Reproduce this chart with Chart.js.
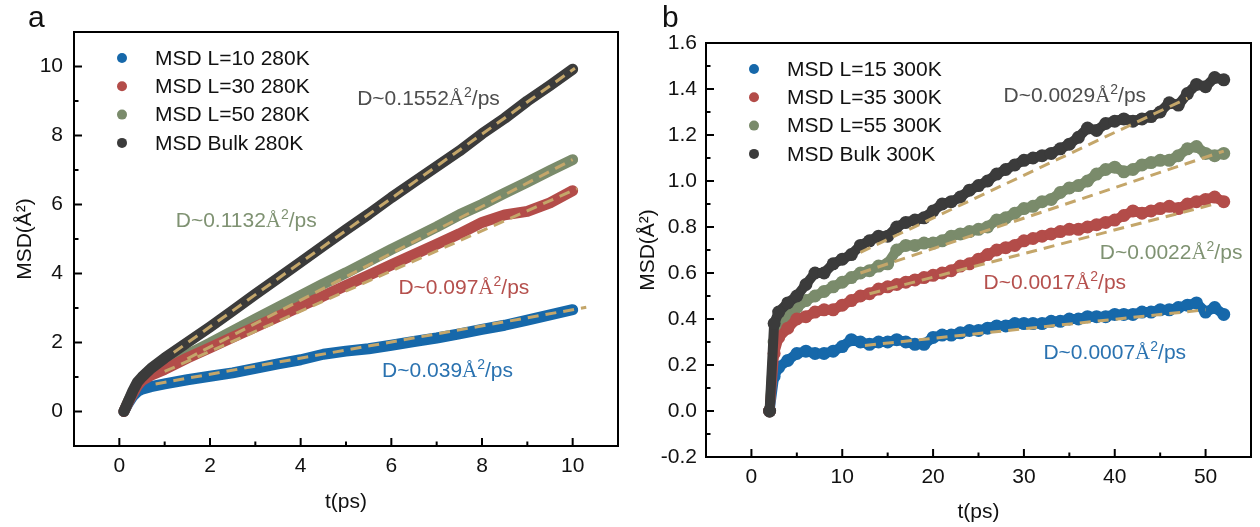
<!DOCTYPE html>
<html>
<head>
<meta charset="utf-8">
<title>MSD</title>
<script src="https://cdn.jsdelivr.net/npm/chart.js@4/dist/chart.umd.min.js"></script>
<style>
  body { margin: 0; background: #fff; }
  #wrap { position: relative; width: 1260px; height: 527px; }
  .pan { position: absolute; top: 0; width: 630px; height: 527px; }
</style>
</head>
<body>
<div id="wrap">
  <div class="pan" style="left:0"><canvas id="chartA" width="630" height="527"></canvas></div>
  <div class="pan" style="left:630px"><canvas id="chartB" width="630" height="527"></canvas></div>
</div>
<script>
// ---- panel a (280K) ----
var tA = [0.1,0.2,0.3,0.4,0.5,0.7,1,1.5,2,2.5,3,3.5,4,4.5,5,5.5,6,6.5,7,7.5,8,8.5,9,9.5,10];
var l10A = [0,0.25,0.45,0.58,0.65,0.72,0.8,0.92,1.02,1.12,1.25,1.38,1.5,1.66,1.75,1.82,1.92,2.03,2.13,2.25,2.38,2.5,2.65,2.8,2.95];
var l30A = [0,0.28,0.52,0.75,0.9,1.05,1.22,1.55,1.85,2.15,2.45,2.75,3.05,3.35,3.65,3.95,4.25,4.55,4.85,5.15,5.48,5.7,5.8,6.05,6.4];
var l50A = [0,0.3,0.55,0.8,0.95,1.12,1.32,1.65,1.98,2.33,2.68,3.02,3.36,3.7,4.02,4.36,4.7,5.02,5.35,5.7,6.0,6.33,6.65,6.98,7.3];
var bulkA = [0,0.3,0.6,0.85,1.0,1.25,1.55,2.0,2.45,2.92,3.4,3.86,4.33,4.8,5.27,5.72,6.2,6.65,7.1,7.55,8.05,8.5,9.0,9.45,9.92];
var fitL10A = [[0.8, 0.80], [10.3, 3.02]];
var fitL30A = [[1.0, 1.16], [10.1, 6.46]];
var fitL50A = [[1.5, 1.53], [10.0, 7.30]];
var fitBulkA = [[1.2, 1.71], [10.05, 9.95]];
var namesA = ['MSD L=10 280K', 'MSD L=30 280K', 'MSD L=50 280K', 'MSD Bulk 280K'];
var xTicksA = [0, 2, 4, 6, 8, 10];
var yTicksA = [0, 2, 4, 6, 8, 10];
var noteValA = ['0.039', '0.097', '0.1132', '0.1552'];
var noteXA = [7.24, 7.6, 2.8, 6.82];
var noteYA = [1.19, 3.6, 5.54, 9.1];

// ---- panel b (300K) ----
var tB = [2,2.5,3,4,5,6,7,8,9,10,11,12,13,14,15,16,17,18,19,20,21,22,23,24,25,26,27,28,29,30,31,32,33,34,35,36,37,38,39,40,41,42,43,44,45,46,47,48,49,50,51,52];
var l15B = [0,0.15,0.19,0.22,0.25,0.26,0.25,0.25,0.26,0.28,0.31,0.3,0.29,0.3,0.3,0.31,0.3,0.29,0.29,0.32,0.33,0.33,0.34,0.35,0.35,0.36,0.37,0.37,0.38,0.38,0.38,0.38,0.39,0.39,0.4,0.4,0.41,0.41,0.41,0.42,0.42,0.42,0.43,0.43,0.44,0.44,0.45,0.46,0.47,0.43,0.45,0.42];
var l35B = [0,0.25,0.32,0.36,0.4,0.41,0.43,0.44,0.44,0.46,0.48,0.5,0.51,0.53,0.54,0.55,0.56,0.57,0.58,0.59,0.6,0.61,0.63,0.64,0.66,0.68,0.7,0.71,0.72,0.74,0.75,0.76,0.77,0.78,0.79,0.79,0.8,0.81,0.82,0.83,0.85,0.87,0.86,0.87,0.88,0.89,0.88,0.9,0.91,0.92,0.93,0.91];
var l55B = [0,0.3,0.37,0.41,0.45,0.48,0.5,0.52,0.54,0.56,0.58,0.6,0.61,0.63,0.64,0.7,0.72,0.72,0.73,0.73,0.74,0.76,0.77,0.78,0.79,0.8,0.83,0.84,0.86,0.88,0.89,0.91,0.92,0.95,0.97,0.98,1.0,1.03,1.05,1.06,1.04,1.05,1.07,1.08,1.09,1.09,1.11,1.14,1.15,1.12,1.11,1.12];
var bulkB = [0,0.38,0.43,0.47,0.5,0.55,0.6,0.6,0.64,0.66,0.68,0.72,0.74,0.76,0.76,0.8,0.82,0.83,0.84,0.87,0.9,0.91,0.93,0.96,0.98,1.0,1.03,1.05,1.07,1.09,1.1,1.11,1.12,1.14,1.16,1.19,1.23,1.22,1.25,1.26,1.27,1.26,1.27,1.28,1.3,1.34,1.33,1.38,1.42,1.41,1.45,1.44];
var fitL15B = [[12.5, 0.285], [50, 0.44]];
var fitL35B = [[13, 0.51], [51, 0.90]];
var fitL55B = [[12, 0.60], [52, 1.13]];
var fitBulkB = [[12, 0.69], [48, 1.36]];
var namesB = ['MSD L=15 300K', 'MSD L=35 300K', 'MSD L=55 300K', 'MSD Bulk 300K'];
var xTicksB = [0, 10, 20, 30, 40, 50];
var yTicksB = [-0.2, 0, 0.2, 0.4, 0.6, 0.8, 1.0, 1.2, 1.4, 1.6];
var noteValB = ['0.0007', '0.0017', '0.0022', '0.0029'];
var noteXB = [40, 33.4, 46.2, 35.6];
var noteYB = [0.256, 0.56, 0.69, 1.374];

var SANS = "'Liberation Sans', Arial, sans-serif";
var SERIF = "'Liberation Serif', 'Times New Roman', serif";
var colors = ['#1668aa', '#b34c49', '#7a8b6b', '#3b3b3b'];
var noteColors = ['#2a72b0', '#b5504d', '#7f9272', '#4d4d4d'];
var fitColor = '#c4a66a';

Chart.defaults.font.family = SANS;
Chart.defaults.font.size = 21;
Chart.defaults.color = '#111';

function pts(xs, ys) {
  return xs.map(function (x, i) { return {x: x, y: ys[i]}; });
}

function series(label, xs, ys, color, order, markers) {
  return {
    label: label, data: pts(xs, ys), showLine: true, order: order,
    borderColor: color, backgroundColor: color,
    borderWidth: markers ? 10 : 11, borderCapStyle: 'round', borderJoinStyle: 'round',
    pointRadius: markers ? 6.5 : 0, pointBorderWidth: 0, pointBackgroundColor: color
  };
}

function fit(f) {
  return {
    label: 'fit', data: f.map(function (p) { return {x: p[0], y: p[1]}; }),
    showLine: true, order: 0, borderColor: fitColor, borderWidth: 3,
    borderDash: [11, 7], pointRadius: 0
  };
}

function drawNote(ctx, x, y, val, color) {
  var parts = [
    {t: 'D~' + val, f: '21px ' + SANS, dy: 0},
    {t: 'Å', f: '21px ' + SERIF, dy: 0},
    {t: '2', f: '14px ' + SANS, dy: -8},
    {t: '/ps', f: '21px ' + SANS, dy: 0}
  ];
  var w = 0;
  parts.forEach(function (p) { ctx.font = p.f; p.w = ctx.measureText(p.t).width; w += p.w; });
  var cx = x - w / 2;
  ctx.fillStyle = color;
  ctx.textAlign = 'left';
  ctx.textBaseline = 'alphabetic';
  parts.forEach(function (p) {
    ctx.font = p.f;
    ctx.fillText(p.t, cx, y + 7 + p.dy);
    cx += p.w;
  });
}

function deco(o) {
  return {
    id: 'deco',
    afterDatasetsDraw: function (chart) {
      var ctx = chart.ctx, a = chart.chartArea;
      var sx = chart.scales.x, sy = chart.scales.y;
      ctx.save();
      // frame
      ctx.strokeStyle = '#000';
      ctx.lineWidth = 2;
      ctx.strokeRect(a.left, a.top, a.right - a.left, a.bottom - a.top);
      // inward ticks, major + minor
      function marks(scale, horiz) {
        var major = scale.ticks.map(function (t) { return t.value; });
        var step = major[1] - major[0];
        var all = [];
        major.forEach(function (v) { all.push([v, 8]); });
        for (var v = major[0] - step / 2; v <= major[major.length - 1] + step / 2 + 1e-9; v += step) {
          if (v > scale.min + 1e-9 && v < scale.max - 1e-9) all.push([v, 4.5]);
        }
        all.forEach(function (m) {
          var p = scale.getPixelForValue(m[0]);
          ctx.beginPath();
          if (horiz) { ctx.moveTo(p, a.bottom); ctx.lineTo(p, a.bottom - m[1]); }
          else { ctx.moveTo(a.left, p); ctx.lineTo(a.left + m[1], p); }
          ctx.stroke();
        });
      }
      marks(sx, true);
      marks(sy, false);
      // slope notes
      for (var i = 0; i < o.noteVal.length; i++) {
        drawNote(ctx, sx.getPixelForValue(o.noteX[i]), sy.getPixelForValue(o.noteY[i]), o.noteVal[i], noteColors[i]);
      }
      // legend
      ctx.font = '21px ' + SANS;
      ctx.textBaseline = 'middle';
      ctx.textAlign = 'left';
      for (var k = 0; k < o.names.length; k++) {
        var ly = a.top + 26 + k * 28.3;
        ctx.fillStyle = colors[k];
        ctx.beginPath();
        ctx.arc(a.left + 48, ly, 5, 0, Math.PI * 2);
        ctx.fill();
        ctx.fillStyle = '#111';
        ctx.fillText(o.names[k], a.left + 81, ly + 1);
      }
      // panel letter
      ctx.font = '30px ' + SANS;
      ctx.fillStyle = '#111';
      ctx.textBaseline = 'alphabetic';
      ctx.fillText(o.letter, o.letterX, 27);
      ctx.restore();
    }
  };
}

function makeChart(id, o) {
  return new Chart(document.getElementById(id), {
    type: 'scatter',
    data: {datasets: o.datasets},
    options: {
      responsive: false, animation: false, devicePixelRatio: 1,
      layout: {padding: {top: o.top, right: o.right, left: 0, bottom: 0}},
      plugins: {legend: {display: false}, tooltip: {enabled: false}},
      scales: {
        x: {
          type: 'linear', min: o.xmin, max: o.xmax,
          afterBuildTicks: function (s) { s.ticks = o.xTicks.map(function (v) { return {value: v}; }); },
          afterFit: function (s) { s.height = o.xh; },
          grid: {display: false, drawTicks: false}, border: {display: false},
          ticks: {padding: 8, color: '#111', callback: o.xfmt},
          title: {display: true, text: 't(ps)', color: '#111', padding: {top: 0, bottom: o.xtpad}}
        },
        y: {
          type: 'linear', min: o.ymin, max: o.ymax,
          afterBuildTicks: function (s) { s.ticks = o.yTicks.map(function (v) { return {value: v}; }); },
          afterFit: function (s) { s.width = o.yw; },
          grid: {display: false, drawTicks: false}, border: {display: false},
          ticks: {padding: o.ypad, color: '#111', callback: o.yfmt},
          title: {display: true, text: 'MSD(Å²)', color: '#111', padding: {top: o.ytpad, bottom: 0}}
        }
      }
    },
    plugins: [deco(o)]
  });
}

makeChart('chartA', {
  datasets: [
    fit(fitL10A), fit(fitL30A), fit(fitL50A), fit(fitBulkA),
    series(namesA[3], tA, bulkA, colors[3], 1, false),
    series(namesA[1], tA, l30A, colors[1], 2, false),
    series(namesA[2], tA, l50A, colors[2], 3, false),
    series(namesA[0], tA, l10A, colors[0], 4, false)
  ],
  names: namesA, noteVal: noteValA, noteX: noteXA, noteY: noteYA,
  letter: 'a', letterX: 28,
  top: 32, right: 12, xh: 81, yw: 74,
  xmin: -1, xmax: 11, ymin: -1, ymax: 11,
  xTicks: xTicksA, yTicks: yTicksA,
  xfmt: function (v) { return String(v); },
  yfmt: function (v) { return String(v); },
  xtpad: 12, ytpad: 13, ypad: 11
});

makeChart('chartB', {
  datasets: [
    fit(fitL15B), fit(fitL35B), fit(fitL55B), fit(fitBulkB),
    series(namesB[3], tB, bulkB, colors[3], 1, true),
    series(namesB[1], tB, l35B, colors[1], 2, true),
    series(namesB[2], tB, l55B, colors[2], 3, true),
    series(namesB[0], tB, l15B, colors[0], 4, true)
  ],
  names: namesB, noteVal: noteValB, noteX: noteXB, noteY: noteYB,
  letter: 'b', letterX: 32,
  top: 43, right: 9, xh: 70, yw: 76,
  xmin: -5, xmax: 55, ymin: -0.2, ymax: 1.6,
  xTicks: xTicksB, yTicks: yTicksB,
  xfmt: function (v) { return String(v); },
  yfmt: function (v) { return v.toFixed(1); },
  xtpad: 2, ytpad: 6, ypad: 9
});
</script>
</body>
</html>
